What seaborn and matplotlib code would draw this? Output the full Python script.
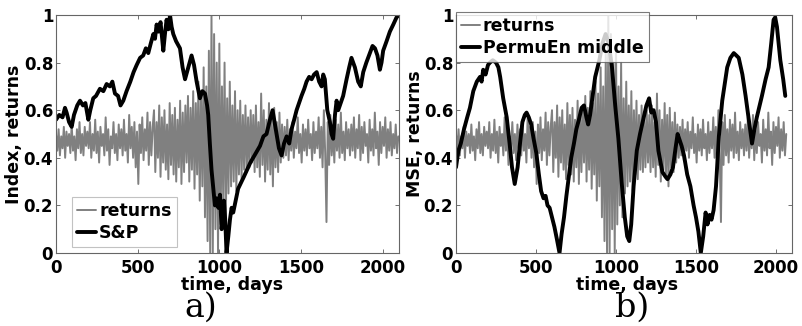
import numpy as np
import matplotlib
matplotlib.use("Agg")
import matplotlib.pyplot as plt
import seaborn as sns

# Normalised daily returns (rescaled to [0, 1]), one value every 8 days
return_step = 8
returns = [
    # days 0-192
    0.50, 0.43, 0.52, 0.41, 0.49, 0.44, 0.53, 0.40, 0.51, 0.45, 0.50, 0.42, 0.54,
    0.43, 0.49, 0.39, 0.52, 0.44, 0.55, 0.42, 0.50, 0.41, 0.53, 0.45, 0.51,
    # days 200-392
    0.44, 0.55, 0.40, 0.50, 0.43, 0.56, 0.42, 0.51, 0.38, 0.53, 0.45, 0.50, 0.41,
    0.57, 0.43, 0.52, 0.37, 0.49, 0.44, 0.55, 0.42, 0.50, 0.39, 0.54, 0.44,
    # days 400-592
    0.52, 0.41, 0.56, 0.43, 0.50, 0.38, 0.58, 0.44, 0.53, 0.40, 0.55, 0.36, 0.51,
    0.29, 0.54, 0.42, 0.57, 0.39, 0.52, 0.43, 0.59, 0.37, 0.55, 0.41, 0.53,
    # days 600-792
    0.60, 0.34, 0.55, 0.40, 0.62, 0.32, 0.57, 0.38, 0.60, 0.35, 0.54, 0.31, 0.63,
    0.37, 0.58, 0.33, 0.61, 0.30, 0.56, 0.36, 0.64, 0.29, 0.59, 0.34, 0.62,
    # days 800-992
    0.38, 0.66, 0.30, 0.61, 0.35, 0.68, 0.27, 0.63, 0.33, 0.72, 0.22, 0.67, 0.28,
    0.78, 0.15, 0.70, 0.05, 0.85, 0.00, 1.00, 0.00, 0.92, 0.10, 0.80, 0.00,
    # days 1000-1192
    0.88, 0.12, 0.70, 0.20, 0.80, 0.15, 0.65, 0.25, 0.72, 0.28, 0.62, 0.30, 0.68,
    0.26, 0.60, 0.33, 0.64, 0.31, 0.58, 0.35, 0.62, 0.34, 0.57, 0.36, 0.60,
    # days 1200-1392
    0.38, 0.58, 0.34, 0.62, 0.36, 0.55, 0.32, 0.67, 0.37, 0.60, 0.30, 0.56, 0.35,
    0.63, 0.33, 0.58, 0.28, 0.61, 0.36, 0.55, 0.34, 0.59, 0.38, 0.54, 0.40,
    # days 1400-1592
    0.53, 0.41, 0.56, 0.39, 0.52, 0.43, 0.55, 0.40, 0.51, 0.44, 0.57, 0.42, 0.50,
    0.38, 0.54, 0.43, 0.52, 0.41, 0.56, 0.44, 0.50, 0.39, 0.55, 0.42, 0.51,
    # days 1600-1792
    0.44, 0.57, 0.40, 0.53, 0.36, 0.60, 0.42, 0.13, 0.55, 0.37, 0.58, 0.41, 0.52,
    0.38, 0.56, 0.43, 0.54, 0.40, 0.59, 0.42, 0.51, 0.39, 0.55, 0.44, 0.52,
    # days 1800-2096
    0.41, 0.54, 0.43, 0.57, 0.40, 0.52, 0.44, 0.58, 0.39, 0.53, 0.42, 0.55, 0.45,
    0.50, 0.38, 0.56, 0.43, 0.52, 0.41, 0.59, 0.44, 0.51, 0.37, 0.55, 0.42, 0.53,
    0.45, 0.57, 0.40, 0.52, 0.43, 0.55, 0.41, 0.50, 0.44, 0.54, 0.42, 0.49,
]
return_days = np.arange(len(returns)) * return_step

# Normalised S&P index
sp_days = [
    0, 20, 40, 55, 65, 80, 96, 110, 130, 147, 165, 180, 198,
    210, 228, 245, 269, 290, 310, 330, 345, 361, 380, 395, 412, 432,
    455, 475, 494, 515, 534, 550, 565, 580, 596, 606,
    616, 628, 640, 650, 657, 667, 677, 688, 698, 708, 718,
    735, 759, 775, 790, 810, 830, 845, 861, 881,
    896, 912, 925, 932, 942, 952, 963, 973, 983, 994, 1004, 1014, 1028, 1036, 1044,
    1055, 1065, 1075, 1085, 1100, 1115, 1129, 1150, 1170, 1190, 1215, 1249, 1270,
    1289, 1310, 1326, 1338,
    1350, 1365, 1381, 1396, 1412, 1428, 1442, 1458, 1473, 1488, 1503, 1520, 1534,
    1550, 1565, 1580, 1596,
    1611, 1626, 1636, 1646, 1661, 1677, 1687, 1697, 1708, 1718, 1728, 1738, 1758,
    1779, 1795, 1809, 1830, 1850, 1866, 1881, 1900, 1922, 1938, 1953, 1968, 1983,
    1993, 2003, 2024, 2044, 2065, 2085, 2100,
]
sp_index = [
    0.56, 0.58, 0.57, 0.61, 0.59, 0.55, 0.53, 0.58, 0.62, 0.64, 0.62, 0.63, 0.56,
    0.60, 0.65, 0.66, 0.69, 0.68, 0.71, 0.70, 0.72, 0.67, 0.66, 0.62, 0.64, 0.68,
    0.72, 0.76, 0.79, 0.82, 0.83, 0.86, 0.84, 0.88, 0.92, 0.90,
    0.96, 0.93, 0.97, 0.90, 0.85, 0.92, 0.98, 0.94, 1.00, 0.95, 0.92,
    0.89, 0.86, 0.78, 0.73, 0.78, 0.83, 0.79, 0.72, 0.65,
    0.68, 0.67, 0.62, 0.58, 0.46, 0.35, 0.27, 0.20, 0.23, 0.19, 0.245, 0.10, 0.22, 0.14, 0.00,
    0.07, 0.14, 0.19, 0.17, 0.22, 0.27, 0.29, 0.32, 0.35, 0.38, 0.41, 0.45, 0.49,
    0.50, 0.56, 0.60, 0.55,
    0.50, 0.44, 0.41, 0.46, 0.49, 0.46, 0.52, 0.56, 0.60, 0.63, 0.66, 0.69, 0.72,
    0.74, 0.73, 0.75, 0.76,
    0.72, 0.70, 0.75, 0.73, 0.60, 0.55, 0.50, 0.48, 0.58, 0.64, 0.60, 0.62, 0.66,
    0.73, 0.78, 0.82, 0.78, 0.72, 0.70, 0.76, 0.80, 0.84, 0.87, 0.86, 0.83, 0.77,
    0.80, 0.85, 0.89, 0.93, 0.96, 0.99, 1.00,
]

# Permutation entropy (middle scale)
pe_days = [
    0, 15, 30, 50, 70, 87, 108, 130, 150, 160, 170, 185, 200, 212, 230, 250, 265,
    276, 295, 317, 335, 350, 367, 385, 400, 415, 430, 441, 455, 470, 485, 502,
    518, 532, 547, 560, 572, 585, 600, 615, 630, 647, 660, 675, 690, 705, 720,
    737, 752, 768, 785, 800, 815, 826, 838, 850, 870, 896, 915, 935, 955, 975,
    995, 1015, 1035, 1055, 1070, 1083, 1095, 1110, 1130, 1150, 1170, 1190, 1207,
    1220, 1235, 1250, 1265, 1290, 1310, 1322, 1340, 1356, 1372, 1385, 1400, 1410,
    1425, 1445, 1465, 1485, 1500, 1515, 1530, 1545, 1560, 1572, 1585, 1597, 1610,
    1625, 1643, 1664, 1695, 1715, 1736, 1752, 1767, 1790, 1810, 1830, 1850, 1865,
    1880, 1912, 1935, 1954, 1970, 1985, 1995, 2006, 2027, 2045, 2058,
]
pe_middle = [
    0.36, 0.43, 0.46, 0.52, 0.57, 0.61, 0.68, 0.72, 0.74, 0.72, 0.77, 0.75, 0.79,
    0.80, 0.81, 0.80, 0.78, 0.74, 0.65, 0.57, 0.46, 0.36, 0.29, 0.36, 0.46, 0.55,
    0.58, 0.59, 0.57, 0.54, 0.48, 0.42, 0.33, 0.26, 0.23, 0.24, 0.20, 0.19, 0.15,
    0.11, 0.06, 0.00, 0.08, 0.15, 0.24, 0.32, 0.40, 0.46, 0.52, 0.56, 0.61, 0.62,
    0.57, 0.54, 0.58, 0.64, 0.74, 0.81, 0.88, 0.92, 0.88, 0.78, 0.62, 0.48, 0.30,
    0.15, 0.07, 0.05, 0.12, 0.28, 0.43, 0.50, 0.56, 0.62, 0.65, 0.59, 0.60, 0.55,
    0.43, 0.34, 0.32, 0.31, 0.33, 0.36, 0.44, 0.50, 0.47, 0.45, 0.41, 0.33, 0.28,
    0.20, 0.15, 0.09, 0.00, 0.07, 0.17, 0.12, 0.16, 0.14, 0.18, 0.28, 0.49, 0.64,
    0.78, 0.82, 0.84, 0.83, 0.82, 0.75, 0.66, 0.56, 0.46, 0.52, 0.57, 0.66, 0.73,
    0.78, 0.88, 0.98, 0.99, 0.95, 0.81, 0.73, 0.66,
]

x_ticks = [0, 500, 1000, 1500, 2000]
y_ticks = [0, 0.2, 0.4, 0.6, 0.8, 1]
y_tick_labels = ["0", "0.2", "0.4", "0.6", "0.8", "1"]

sns.set_style("ticks")
plt.rcParams.update({
    "font.family": ["DejaVu Sans"],
    "font.weight": "bold",
    "axes.labelweight": "bold",
    "text.color": "black",
    "axes.labelcolor": "black",
    "xtick.color": "black",
    "ytick.color": "black",
    "xtick.direction": "in",
    "ytick.direction": "in",
})

GRAY = "#808080"
W, H = 803, 326
fig = plt.figure(figsize=(W / 100, H / 100), dpi=100)
ax_a = fig.add_axes([56 / W, 73 / H, 343 / W, 238 / H])
ax_b = fig.add_axes([456 / W, 73 / H, 336 / W, 238 / H])

# panel a: returns and S&P index
sns.lineplot(x=return_days, y=returns, ax=ax_a, color=GRAY, lw=1.4,
             estimator=None, label="returns")
sns.lineplot(x=sp_days, y=sp_index, ax=ax_a, color="black", lw=2.8,
             estimator=None, label="S&P")

# panel b: returns and permutation entropy
mask_b = return_days <= 2064
sns.lineplot(x=return_days[mask_b], y=np.asarray(returns)[mask_b], ax=ax_b,
             color=GRAY, lw=1.4, estimator=None, label="returns")
sns.lineplot(x=pe_days, y=pe_middle, ax=ax_b, color="black", lw=2.8,
             estimator=None, label="PermuEn middle")

for ax, ylab, ylab_x, xlab_x in [(ax_a, "Index, returns", -0.095, 0.513),
                                 (ax_b, "MSE, returns", -0.095, 0.509)]:
    ax.set_xlim(0, 2100)
    ax.set_ylim(0, 1)
    ax.set_xticks(x_ticks)
    ax.set_yticks(y_ticks)
    ax.set_yticklabels(y_tick_labels)
    ax.tick_params(top=True, right=True, length=3, width=0.6, color="0.35",
                   labelsize=12, pad=2)
    ax.tick_params(axis="x", pad=4)
    for s in ax.spines.values():
        s.set_visible(True)
        s.set_linewidth(0.8)
        s.set_color("0.4")
    ax.set_xlabel("time, days", fontsize=12.5, fontweight="bold")
    ax.set_ylabel(ylab, fontsize=12.5, fontweight="bold")
    ax.xaxis.set_label_coords(xlab_x, -0.098)
    ax.yaxis.set_label_coords(ylab_x, 0.5)

leg_a = ax_a.legend(loc="lower left", bbox_to_anchor=(0.047, 0.025),
                    borderaxespad=0, frameon=True, fancybox=False,
                    prop={"size": 12.5, "weight": "bold"},
                    handlelength=1.1, handletextpad=0.15, labelspacing=0.2,
                    borderpad=0.3)
leg_a.get_frame().set_edgecolor("0.7")
leg_a.get_frame().set_linewidth(0.8)

leg_b = ax_b.legend(loc="lower left", bbox_to_anchor=(0.0, 0.8025),
                    borderaxespad=0, frameon=True, fancybox=False,
                    prop={"size": 12.5, "weight": "bold"},
                    handlelength=1.1, handletextpad=0.15, labelspacing=0.2,
                    borderpad=0.3)
leg_b.get_frame().set_edgecolor("0.35")
leg_b.get_frame().set_linewidth(0.8)

fig.text(201 / W, 1 - 308 / H, "a)", fontsize=24, fontweight="normal",
         family="DejaVu Serif", ha="center", va="center")
fig.text(632 / W, 1 - 308 / H, "b)", fontsize=24, fontweight="normal",
         family="DejaVu Serif", ha="center", va="center")

fig.savefig("out.png", dpi=100)
